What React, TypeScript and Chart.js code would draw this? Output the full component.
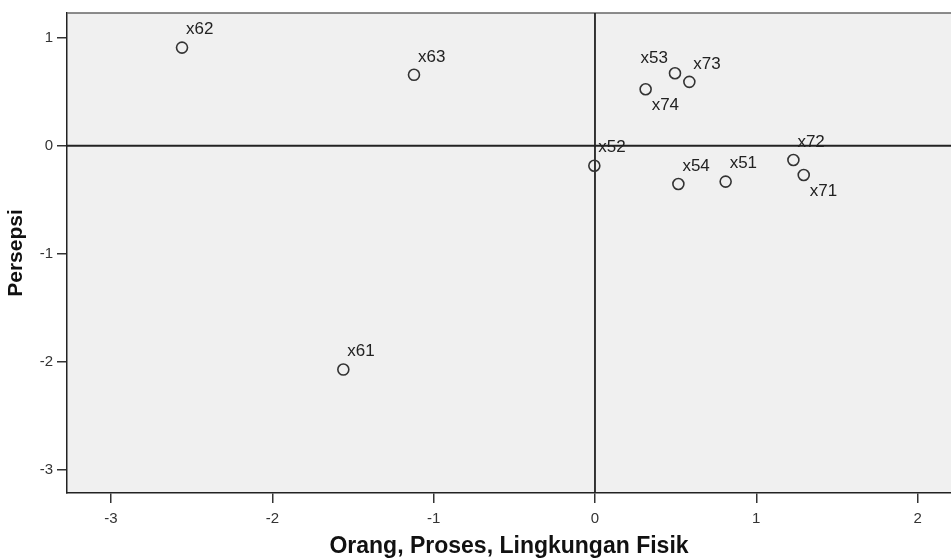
import React, { useEffect, useRef } from "react";
import { Chart, registerables } from "chart.js";

Chart.register(...registerables);

// ---- data ----
const pointNames = ["x51", "x52", "x53", "x54", "x61", "x62", "x63", "x71", "x72", "x73", "x74"];
const xValues = [0.81, -0.004, 0.496, 0.517, -1.56, -2.56, -1.122, 1.294, 1.23, 0.585, 0.314];
const yValues = [-0.332, -0.185, 0.671, -0.354, -2.071, 0.908, 0.656, -0.271, -0.132, 0.591, 0.523];
const xTickValues = [-3, -2, -1, 0, 1, 2];
const yTickValues = [-3, -2, -1, 0, 1];
const xAxisTitle = "Orang, Proses, Lingkungan Fisik";
const yAxisTitle = "Persepsi";

// ---- styling ----
const FONT = "'Liberation Sans', Arial, Helvetica, sans-serif";
const labelPlacement: Record<string, string> = { x53: "nw", x74: "se", x71: "se" };

const quadrantPlugin = {
  id: "quadrantPlugin",
  beforeDraw(chart: any) {
    const { ctx, chartArea } = chart;
    ctx.save();
    ctx.fillStyle = "#f0f0f0";
    ctx.fillRect(chartArea.left, chartArea.top, chartArea.right - chartArea.left, chartArea.bottom - chartArea.top);
    ctx.restore();
  },
  beforeDatasetsDraw(chart: any) {
    const { ctx, chartArea, scales } = chart;
    ctx.save();
    // top border
    ctx.strokeStyle = "#666";
    ctx.lineWidth = 1.5;
    ctx.beginPath();
    ctx.moveTo(chartArea.left, chartArea.top);
    ctx.lineTo(chartArea.right, chartArea.top);
    ctx.stroke();
    // reference lines at 0
    const x0 = scales.x.getPixelForValue(0);
    const y0 = scales.y.getPixelForValue(0);
    ctx.strokeStyle = "#222";
    ctx.lineWidth = 1.8;
    ctx.beginPath();
    ctx.moveTo(x0, chartArea.top);
    ctx.lineTo(x0, chartArea.bottom);
    ctx.moveTo(chartArea.left, y0);
    ctx.lineTo(chartArea.right, y0);
    ctx.stroke();
    ctx.restore();
  },
  afterDatasetsDraw(chart: any) {
    const { ctx } = chart;
    const meta = chart.getDatasetMeta(0);
    ctx.save();
    ctx.font = `17px ${FONT}`;
    ctx.fillStyle = "#222";
    ctx.textBaseline = "middle";
    meta.data.forEach((el: any, i: number) => {
      const name = pointNames[i];
      const place = labelPlacement[name] || "ne";
      let dx = 4;
      let dy = -18;
      ctx.textAlign = "left";
      if (place === "nw") {
        dx = -7;
        dy = -15;
        ctx.textAlign = "right";
      } else if (place === "se") {
        dx = 6;
        dy = 16;
      }
      ctx.fillText(name, el.x + dx, el.y + dy);
    });
    ctx.restore();
  },
};

export default function App() {
  const canvasRef = useRef<HTMLCanvasElement | null>(null);

  useEffect(() => {
    if (!canvasRef.current) return;
    const chart = new Chart(canvasRef.current, {
      type: "scatter",
      data: {
        datasets: [
          {
            data: xValues.map((x, i) => ({ x, y: yValues[i] })),
            pointRadius: 5.5,
            pointHoverRadius: 5.5,
            pointBorderWidth: 1.6,
            borderColor: "#333",
            backgroundColor: "rgba(0,0,0,0)",
            pointBackgroundColor: "rgba(0,0,0,0)",
            pointBorderColor: "#333",
          },
        ],
      },
      options: {
        responsive: false,
        animation: false,
        layout: { autoPadding: false, padding: { top: 12, right: 0, bottom: 0, left: 0 } },
        plugins: {
          legend: { display: false },
          tooltip: { enabled: false },
        },
        scales: {
          x: {
            type: "linear",
            position: "bottom",
            min: -3.273,
            max: 2.207,
            afterBuildTicks: (s: any) => {
              s.ticks = xTickValues.map((v) => ({ value: v }));
            },
            afterFit: (s: any) => {
              s.height = 67;
            },
            ticks: {
              font: { family: FONT, size: 15 },
              color: "#333",
              padding: 7,
              maxRotation: 0,
              autoSkip: false,
            },
            grid: {
              drawOnChartArea: false,
              drawTicks: true,
              tickLength: 10,
              color: "#333",
              lineWidth: 1.5,
            },
            border: { display: true, color: "#222", width: 1.5 },
            title: {
              display: true,
              text: xAxisTitle,
              color: "#111",
              font: { family: FONT, size: 23, weight: "bold" },
              padding: { top: 0, bottom: 0 },
            },
          },
          y: {
            type: "linear",
            min: -3.213,
            max: 1.228,
            afterBuildTicks: (s: any) => {
              s.ticks = yTickValues.map((v) => ({ value: v }));
            },
            afterFit: (s: any) => {
              s.width = 67;
            },
            ticks: {
              font: { family: FONT, size: 15 },
              color: "#333",
              padding: 4,
              autoSkip: false,
            },
            grid: {
              drawOnChartArea: false,
              drawTicks: true,
              tickLength: 10,
              color: "#333",
              lineWidth: 1.5,
            },
            border: { display: true, color: "#222", width: 1.5 },
            title: {
              display: true,
              text: yAxisTitle,
              color: "#111",
              font: { family: FONT, size: 21, weight: "bold" },
              padding: { top: 4, bottom: 0 },
            },
          },
        },
      },
      plugins: [quadrantPlugin],
    });
    return () => chart.destroy();
  }, []);

  return (
    <div style={{ position: "fixed", left: 0, top: 0, width: 951, height: 560, background: "#fff" }}>
      <canvas ref={canvasRef} width={951} height={560} style={{ display: "block" }} />
    </div>
  );
}
